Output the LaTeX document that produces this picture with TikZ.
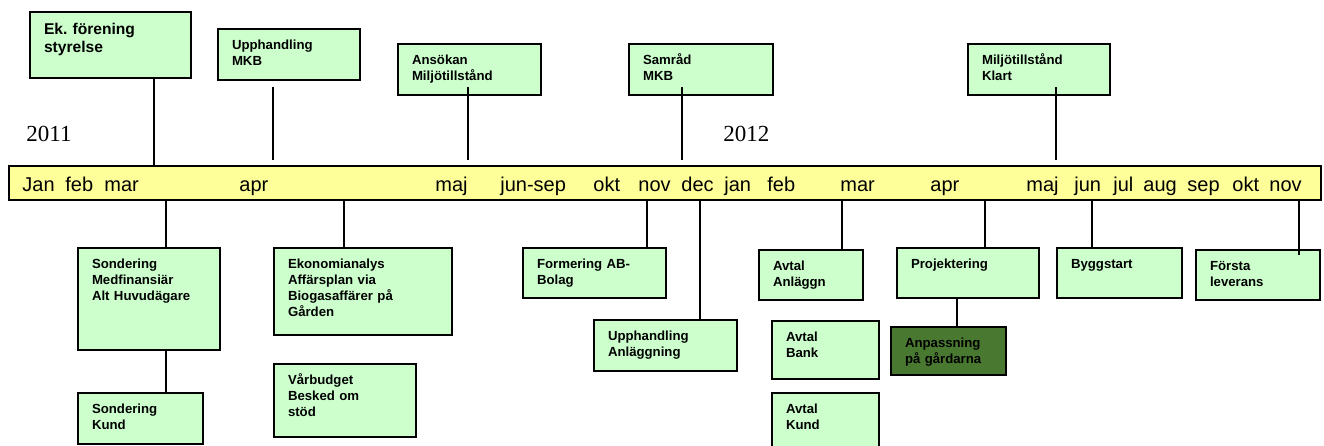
\documentclass[tikz,border=0pt]{standalone}
\usepackage{fontspec}
\setmainfont{Liberation Sans}
\newfontfamily\yearfont{Liberation Serif}
\definecolor{BoxGreen}{RGB}{204,255,204}
\definecolor{BarYellow}{RGB}{255,255,153}
\definecolor{DarkGreen}{RGB}{73,121,48}
\tikzset{
  event/.style={draw,line width=1pt,fill=BoxGreen,anchor=north west,inner xsep=7pt,inner ysep=0pt,
    align=left,text height=10pt,font=\bfseries\fontsize{6.6}{8}\selectfont},
  stem/.style={line width=1pt},
  month/.style={anchor=base west,inner sep=0pt,font=\fontsize{10}{12}\selectfont},
  year/.style={anchor=base west,inner sep=0pt,font=\yearfont\fontsize{11.5}{13}\selectfont},
}

\begin{document}
\begin{tikzpicture}[x=0.5pt,y=-0.5pt]
\useasboundingbox (0,0) rectangle (1324,445);
% time bar
\node[draw,line width=1.2pt,fill=BarYellow,anchor=north west,minimum width=656pt,minimum height=17pt,inner sep=0pt] (bar) at (8,165) {};
\foreach \x/\m [count=\i] in {22/Jan,65/feb,104/mar,239/apr,435/maj,500/jun-sep,593/okt,638/nov,681/dec,724/jan,
    767/feb,840/mar,930/apr,1026/maj,1074/jun,1113/jul,1143/aug,1187/sep,1232/okt,1269/nov}
  \node[month] (m\i) at (\x,191) {\m};
\node[year] (y2011) at (26,141) {2011};
\node[year] (y2012) at (723,141) {2012};

% events above the bar
\node[event,text width=66.5pt,text height=11pt,text depth=22pt,font=\bfseries\fontsize{7.8}{9.4}\selectfont] (ek) at (29,11) {Ek.\ förening\\styrelse};
\node[event,text width=57pt,text depth=15.5pt] (upmkb) at (217,28) {Upphandling\\MKB};
\node[event,text width=57.5pt,text depth=15.5pt] (ansok) at (397,43) {Ansökan\\Miljötillstånd};
\node[event,text width=58pt,text depth=15.5pt] (samrad) at (628,43) {Samråd\\MKB};
\node[event,text width=57pt,text depth=15.5pt] (klart) at (967,43) {Miljötillstånd\\Klart};

% events below the bar
\node[event,text width=57pt,text depth=41pt] (sondmed) at (77,247) {Sondering\\Medfinansiär\\Alt Huvudägare};
\node[event,text width=48.5pt,text depth=15.5pt] (sondkund) at (77,392) {Sondering\\Kund};
\node[event,text width=75pt,text depth=33.5pt] (ekon) at (273,247) {Ekonomianalys\\Affärsplan via\\Biogasaffärer på\\Gården};
\node[event,text width=57pt,text depth=26.5pt] (varb) at (273,363) {Vårbudget\\Besked om\\stöd};
\node[event,text width=57.5pt,text depth=15pt] (form) at (522,247) {Formering AB-\\Bolag};
\node[event,text width=57.5pt,text depth=15.5pt] (upanl) at (593,319) {Upphandling\\Anläggning};
\node[event,text width=38pt,text depth=15pt] (avanl) at (758,249) {Avtal\\Anläggn};
\node[event,text width=39.5pt,text depth=19pt] (avbank) at (771,320) {Avtal\\Bank};
\node[event,text width=39.5pt,text depth=21.5pt] (avkund) at (771,392) {Avtal\\Kund};
\node[event,text width=57pt,text depth=15pt] (proj) at (896,247) {Projektering};
\node[event,fill=DarkGreen,text width=43.5pt,text depth=14pt] (anpass) at (890,326) {Anpassning\\på gårdarna};
\node[event,text width=48.5pt,text depth=15pt] (bygg) at (1056,247) {Byggstart};
\node[event,text width=48pt,text depth=15pt] (forsta) at (1195,249) {Första\\leverans};

% stems
\coordinate (s1) at (154,0);
\coordinate (s2) at (273,87);
\coordinate (s3) at (468,87);
\coordinate (s4) at (682,87);
\coordinate (s5) at (1056,87);
\draw[stem] (ek.south -| s1) -- (bar.north -| s1);
\draw[stem,shorten >=2.5pt] (s2) -- (bar.north -| s2);
\draw[stem,shorten >=2.5pt] (s3) -- (bar.north -| s3);
\draw[stem,shorten >=2.5pt] (s4) -- (bar.north -| s4);
\draw[stem,shorten >=2.5pt] (s5) -- (bar.north -| s5);

\coordinate (b1) at (166,0);
\coordinate (b2) at (344,0);
\coordinate (b3) at (647,0);
\coordinate (b4) at (700,0);
\coordinate (b5) at (842,0);
\coordinate (b6) at (985,0);
\coordinate (b7) at (957,0);
\coordinate (b8) at (1092,0);
\coordinate (b9) at (1299,0);
\draw[stem] (bar.south -| b1) -- (sondmed.north -| b1);
\draw[stem] (sondmed.south -| b1) -- (sondkund.north -| b1);
\draw[stem] (bar.south -| b2) -- (ekon.north -| b2);
\draw[stem] (bar.south -| b3) -- (form.north -| b3);
\draw[stem] (bar.south -| b4) -- (upanl.north -| b4);
\draw[stem] (bar.south -| b5) -- (avanl.north -| b5);
\draw[stem] (bar.south -| b6) -- (proj.north -| b6);
\draw[stem] (proj.south -| b7) -- (anpass.north -| b7);
\draw[stem] (bar.south -| b8) -- (bygg.north -| b8);
\draw[stem,shorten >=-3pt] (bar.south -| b9) -- (forsta.north -| b9);
\end{tikzpicture}
\end{document}
